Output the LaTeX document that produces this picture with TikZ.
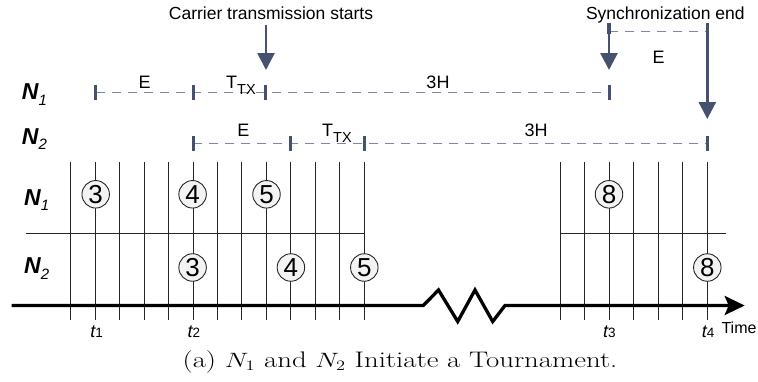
\documentclass[tikz,border=0pt]{standalone}
\usepackage{fontspec}
\usepackage{graphicx}
\usetikzlibrary{arrows.meta}
\newfontfamily\hel{Liberation Sans}
\definecolor{slate}{HTML}{46516F}
\definecolor{dashc}{HTML}{7A88AA}
\definecolor{gridc}{HTML}{262626}
\definecolor{circfill}{HTML}{F3F3F3}
\newcommand{\Nlab}[1]{{\hel\fontsize{23}{23}\selectfont\bfseries\itshape N}\raisebox{-5.7pt}{\hel\fontsize{15}{15}\selectfont\itshape #1}}
\newcommand{\tlab}[1]{{\hel\fontsize{18}{18}\selectfont\itshape t}{\hel\fontsize{13.5}{13.5}\selectfont #1}}
\newcommand{\TTX}{T\raisebox{-6pt}{\fontsize{14.5}{14.5}\selectfont TX}}
\tikzset{
  gridl/.style={draw=gridc, line width=1pt},
  tmark/.style={draw=slate, line width=3.3pt},
  dashl/.style={draw=dashc, line width=1pt, dash pattern=on 9pt off 7pt},
  bigarr/.style={draw=slate, fill=slate, line width=2.7pt, -{Triangle[length=17pt,width=17pt]}},
  numc/.style={circle, draw=gridc, fill=circfill, line width=0.9pt, minimum size=27.5pt, inner sep=0pt, font=\hel\fontsize{26}{26}\selectfont},
  lbl/.style={font=\hel\fontsize{18}{18}\selectfont, inner sep=0pt, anchor=base},
  toptext/.style={font=\hel\fontsize{17.5}{17.5}\selectfont, inner sep=0pt, anchor=base},
  rowlab/.style={inner sep=0pt, anchor=base west},
  tl/.style={inner sep=0pt, anchor=base},
}
\begin{document}
\begin{tikzpicture}[x=1pt,y=-1pt]
\useasboundingbox (0,0) rectangle (758,381);

% ---------- upper timelines ----------
\node[rowlab] (n1top) at (21.7,99.3) {\Nlab{1}};
\node[rowlab] (n2top) at (21.7,144) {\Nlab{2}};

% N1 row
\coordinate (a0) at (95.7,92.7);
\coordinate (a1) at (193.3,92.7);
\coordinate (a2) at (265.7,92.7);
\coordinate (a3) at (609.3,92.7);
\draw[dashl] (a0) -- (a3);
\foreach \p in {a0,a1,a2,a3} \draw[tmark] ([yshift=-7.5pt]\p) -- ([yshift=7.5pt]\p);
\node[lbl] (e1) at (144.7,88.3) {E};
\node[lbl, anchor=base west] (t1x) at (226,88.3) {\TTX};
\node[lbl] (h1) at (438,88.3) {3H};

% N2 row
\coordinate (b0) at (193.3,143.3);
\coordinate (b1) at (290.7,143.3);
\coordinate (b2) at (364.3,143.3);
\coordinate (b3) at (707.3,143.3);
\draw[dashl] (b0) -- (b3);
\foreach \p in {b0,b1,b2,b3} \draw[tmark] ([yshift=-7.5pt]\p) -- ([yshift=7.5pt]\p);
\node[lbl] (e2) at (243.3,136.7) {E};
\node[lbl, anchor=base west] (t2x) at (322,136.7) {\TTX};
\node[lbl] (h2) at (536,136.7) {3H};

% top annotations
\node[toptext] (carrier) at (271,19.3) {Carrier transmission starts};
\node[toptext] (sync) at (665.3,19.3) {Synchronization end};
\coordinate (ca0) at (266,25);
\coordinate (ca1) at (266,70);
\draw[bigarr] (ca0) -- (ca1);

\coordinate (s0) at (609,23);
\coordinate (s1) at (609,70);
\coordinate (r0) at (707.3,23);
\coordinate (r1) at (707.3,119);
\draw[dashl] (609,31.7) -- (707.3,31.7);
\draw[tmark] (s0) -- (609,34);
\draw[tmark] (r0) -- (707.3,34);
\draw[bigarr] (s0) -- (s1);
\draw[bigarr] (r0) -- (r1);
\node[lbl] (es) at (658.5,63.3) {E};

% ---------- grid ----------
\foreach \k in {0,...,12} \draw[gridl] ({70.7+24.47*\k},161.7) -- ({70.7+24.47*\k},320);
\foreach \x in {560,584.5,609,633.5,658,682.5,707.3} \draw[gridl] (\x,161.7) -- (\x,320);
\draw[gridl] (26,233.3) -- (364.3,233.3);
\draw[gridl] (560,233.3) -- (726.3,233.3);

\node[rowlab] (n1row) at (24,205) {\Nlab{1}};
\node[rowlab] (n2row) at (24,273.3) {\Nlab{2}};

% circles
\node[numc] (c13) at (95.7,194.3) {3};
\node[numc] (c14) at (192.6,194.3) {4};
\node[numc] (c15) at (266.5,194.3) {5};
\node[numc] (c18) at (609,194.3) {8};
\node[numc] (c23) at (192.6,267.5) {3};
\node[numc] (c24) at (290.9,267.5) {4};
\node[numc] (c25) at (364.3,267.5) {5};
\node[numc] (c28) at (707.3,267.5) {8};

% time axis
\coordinate (ax0) at (11.7,305.5);
\coordinate (ax1) at (744.7,305.5);
\draw[line width=3.3pt, line join=miter, -{Stealth[length=20pt,width=19pt,inset=4pt]}]
  (ax0) -- (423.3,305.5) -- (438.5,290) -- (457.7,321.5) -- (475,290) -- (492.7,321.5) -- (505,305.5) -- (ax1);

\node[tl] (lt1) at (96.7,337) {\tlab{1}};
\node[tl] (lt2) at (194,337) {\tlab{2}};
\node[tl] (lt3) at (609.3,337) {\tlab{3}};
\node[tl] (lt4) at (708,337) {\tlab{4}};
\node[font=\hel\fontsize{16}{16}\selectfont, inner sep=0pt, anchor=base] (time) at (739,333.3) {Time};

% caption
\node[font=\fontsize{22.5}{27}\selectfont, inner sep=0pt, anchor=base] (cap) at (400,367.7)
  {\scalebox{1.28}[1]{(a) $N_1$ and $N_2$ Initiate a Tournament.}};
\end{tikzpicture}
\end{document}
